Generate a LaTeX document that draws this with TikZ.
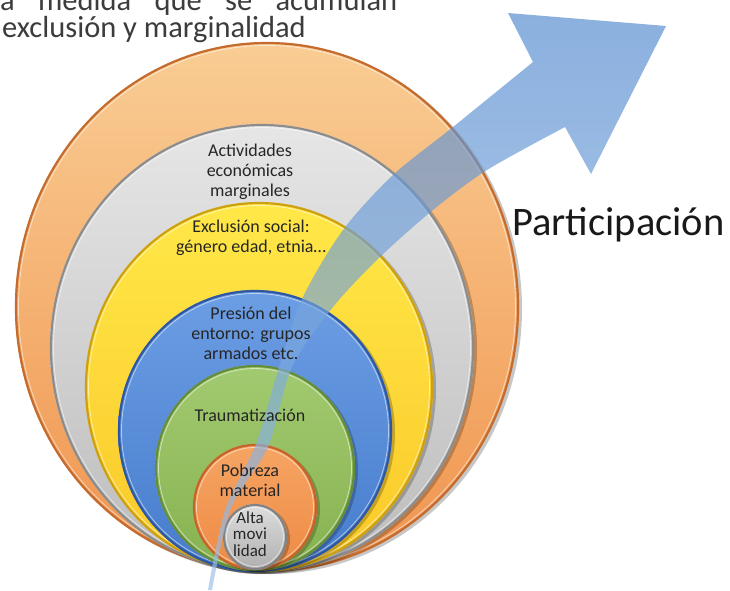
\documentclass[tikz,border=0pt]{standalone}
\usepackage{fontspec}
\setmainfont{Carlito}
\definecolor{orTop}{RGB}{249,205,148}
\definecolor{orBot}{RGB}{240,148,78}
\definecolor{orRim}{RGB}{196,108,48}
\definecolor{grTop}{RGB}{230,230,230}
\definecolor{grBot}{RGB}{188,188,188}
\definecolor{grRim}{RGB}{140,140,140}
\definecolor{yeTop}{RGB}{255,232,72}
\definecolor{yeBot}{RGB}{250,200,40}
\definecolor{yeRim}{RGB}{205,160,20}
\definecolor{blTop}{RGB}{108,158,228}
\definecolor{blBot}{RGB}{70,124,204}
\definecolor{blRim}{RGB}{48,88,160}
\definecolor{gnTop}{RGB}{162,202,112}
\definecolor{gnBot}{RGB}{134,178,80}
\definecolor{gnRim}{RGB}{100,140,60}
\definecolor{poTop}{RGB}{246,165,100}
\definecolor{poBot}{RGB}{238,138,68}
\definecolor{poRim}{RGB}{196,100,40}
\definecolor{alTop}{RGB}{222,222,222}
\definecolor{alBot}{RGB}{175,175,175}
\definecolor{alRim}{RGB}{130,130,130}
\definecolor{arTop}{RGB}{80,136,206}
\definecolor{arMid}{RGB}{125,170,222}
\definecolor{arBot}{RGB}{155,192,233}
\definecolor{txt}{RGB}{38,38,38}
\definecolor{ttl}{RGB}{60,60,60}
\newcommand\ringdisk[7]{%
  \fill[black,opacity=0.22] (#1+3,#2+2) ellipse [x radius=#3, y radius=#4];
  \shade[top color=#5,bottom color=#6] (#1,#2) ellipse [x radius=#3, y radius=#4];
  \draw[#7,line width=2.2pt] (#1,#2) ellipse [x radius=#3-1, y radius=#4-1];
  \draw[white,opacity=0.55,line width=0.8pt] (#1,#2) ellipse [x radius=#3-3.5, y radius=#4-3.5];
}
\begin{document}
\begin{tikzpicture}[x=1pt,y=-1pt,
  lbl/.style={text=txt, align=center, font=\fontsize{18}{20}\selectfont, inner sep=0pt},
  ttlstyle/.style={text=ttl, font=\fontsize{30.5}{34}\selectfont, inner sep=0pt},
  partstyle/.style={text=black!90, font=\fontsize{40.5}{46}\selectfont, inner sep=0pt}]
\useasboundingbox (0,0) rectangle (730,590);
\fill[white] (0,0) rectangle (730,590);
% nested disks
\ringdisk{267}{307}{252}{265}{orTop}{orBot}{orRim}
\ringdisk{262}{348}{212}{224}{grTop}{grBot}{grRim}
\ringdisk{259}{387}{174}{185}{yeTop}{yeBot}{yeRim}
\ringdisk{255}{431}{137}{141}{blTop}{blBot}{blRim}
\ringdisk{255}{468}{100}{103}{gnTop}{gnBot}{gnRim}
\ringdisk{255}{507}{62}{63}{poTop}{poBot}{poRim}
\ringdisk{255}{537}{32}{33}{alTop}{alBot}{alRim}
% arrow
\path[top color=arTop, middle color=arMid, bottom color=arBot, fill opacity=0.66]
  plot[smooth, tension=0.5] coordinates {(208,590) (225,510) (256,444) (279,367) (303,297) (343,230) (393,175) (453,127) (533,62)}
  -- (508,13) -- (666,26) -- (591,174)
  -- plot[smooth, tension=0.5] coordinates {(565,127) (487,170) (433,210) (380,257) (333,307) (292,367) (268,447) (231,508) (212,590)}
  -- cycle;
% labels
\node[lbl] (act) at (250,172) {Actividades\\econ\'omicas\\marginales};
\node[lbl] (exc) at (251,238) {Exclusión social:\\género edad, etnia…};
\node[lbl] (pre) at (251,333) {Presión del\\entorno: grupos\\armados etc.};
\node[lbl] (tra) at (250,415) {Traumatización};
\node[lbl] (pob) at (250,480) {Pobreza\\material};
\node[lbl, font=\fontsize{17}{16.5}\selectfont] (alt) at (250,534) {Alta\\movi\\lidad};
% titles
\node[ttlstyle, anchor=base west] (t1) at (0,10) {\makebox[397pt][s]{a medida que se acumulan}};
\node[ttlstyle, anchor=base west] (t2) at (2,37) {exclusión y marginalidad};
\node[partstyle, anchor=base west] (part) at (512,235) {Participación};
\end{tikzpicture}
\end{document}
